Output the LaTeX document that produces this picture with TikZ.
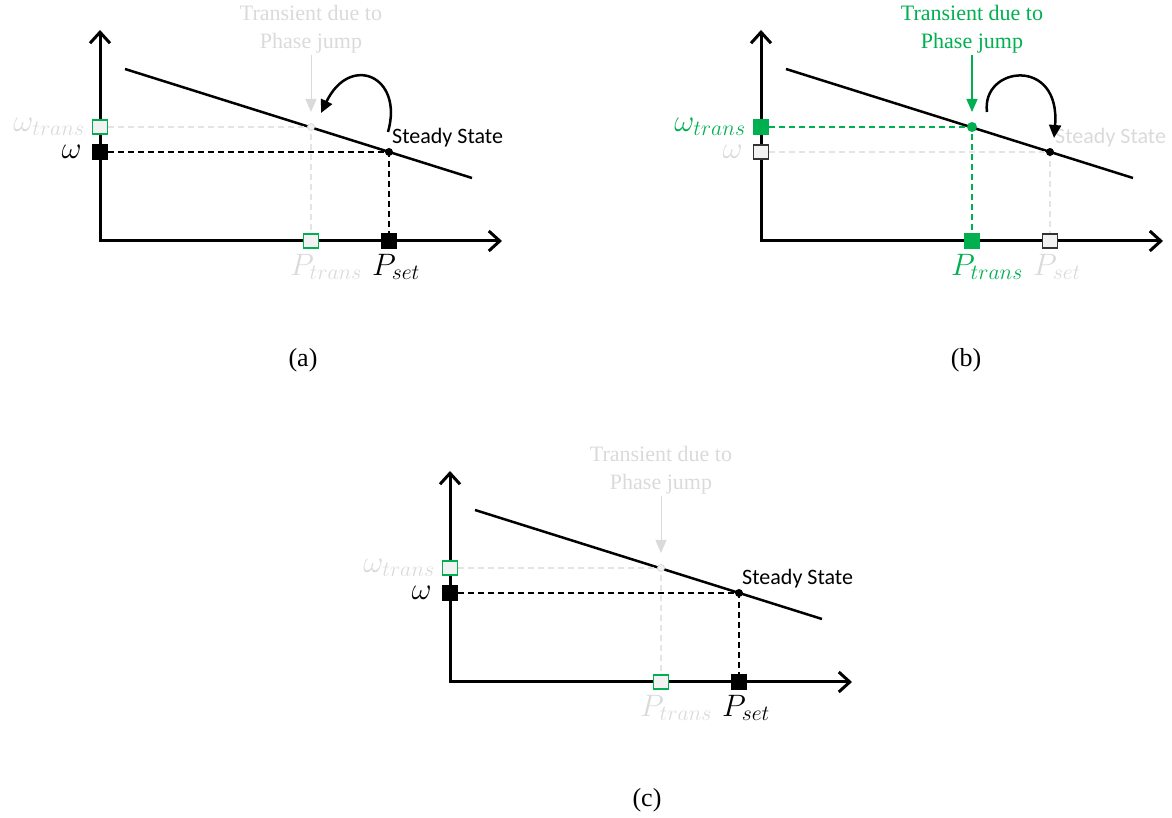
\documentclass[tikz,border=0pt]{standalone}
\usepackage{fix-cm}
\usepackage{fontspec}
\setmainfont{Liberation Serif}
\newfontfamily\calibrifont{Carlito}
\usepackage{tikz}
\usetikzlibrary{
	calc,
	positioning,
	arrows.meta
}
\definecolor{jumpgreen}{RGB}{0,176,80}
\definecolor{fadetxt}{RGB}{218,218,218}
\definecolor{fadeline}{RGB}{228,228,228}
\definecolor{boxfill}{RGB}{242,242,242}

\begin{document}
\begin{tikzpicture}[
		x=1pt, y=1pt,
		axis/.style={line width=3pt, >={Straight Barb[length=11pt,width=20pt]}, <->},
		droop/.style={line width=2.5pt},
		dropline/.style={line width=1.4pt, dash pattern=on 6pt off 4pt},
		sqbox/.style={rectangle, inner sep=0pt, minimum width=15pt, minimum height=14pt, line width=1.5pt},
		sqset/.style={sqbox, fill=black, draw=black},
		sqgreen/.style={sqbox, fill=jumpgreen, draw=jumpgreen},
		sqfadegreen/.style={sqbox, fill=boxfill, draw=jumpgreen},
		sqfadeblack/.style={sqbox, fill=boxfill, draw=black!80},
		mathlbl/.style={font=\fontsize{31}{36}\selectfont, inner sep=0pt},
		jumptxt/.style={font=\fontsize{22}{28}\selectfont, align=center, inner sep=2pt},
		steadytxt/.style={font=\calibrifont\fontsize{22}{26}\selectfont, inner sep=0pt, anchor=base west},
		caption/.style={font=\fontsize{26}{30}\selectfont},
		jumparrow/.style={line width=2.5pt, -{Triangle[length=13pt,width=12pt]}},
		pointer/.style={-{Triangle[length=13pt,width=11pt]}, shorten >=15pt}
	]
	\useasboundingbox (0,0) rectangle (1172,818);

	% ---------- (a) ----------
	\begin{scope}[shift={(100,577)}]
		% 坐标
		\coordinate (a-o)  at (0,0);
		\coordinate (a-yt) at (0,211);
		\coordinate (a-xt) at (402,0);
		\coordinate (a-l0) at (25,172);
		\coordinate (a-l1) at (372,63);
		\coordinate (a-ss) at (289,89);
		\coordinate (a-tr) at (211,114);
		\coordinate (a-c0) at (288,109);
		\coordinate (a-c1) at (221,128);

		% 坐标轴
		\draw[axis] (a-yt) -- (a-o) -- (a-xt);
		% 下垂特性
		\draw[droop] (a-l0) -- (a-l1);

		% 方块
		\node[sqset]       (a-w)  at (a-o |- a-ss) {};
		\node[sqfadegreen] (a-wt) at (a-o |- a-tr) {};
		\node[sqset]       (a-ps) at (a-ss |- a-o) {};
		\node[sqfadegreen] (a-pt) at (a-tr |- a-o) {};

		% 参考虚线
		\draw[dropline, fadeline] (a-wt) -- (a-tr) -- (a-pt);
		\draw[dropline] (a-w) -- (a-ss) -- (a-ps);

		% 工作点
		\filldraw[fill=boxfill, draw=fadetxt, line width=0.8pt] (a-tr) circle (3.5);
		\fill (a-ss) circle (4);

		% 标签
		\node[mathlbl, left=10pt of a-w] (a-wlbl) {$\omega$};
		\node[mathlbl, fadetxt, left=7pt of a-wt] (a-wtlbl) {$\omega_{trans}$};
		\node[mathlbl, anchor=north] (a-pslbl) at ([xshift=7pt, yshift=-5pt]a-ps.south) {$P_{set}$};
		\node[mathlbl, fadetxt, anchor=north] (a-ptlbl) at ([xshift=15pt, yshift=-5pt]a-pt.south) {$P_{trans}$};
		\node[steadytxt] (a-sstxt) at ([xshift=3pt, yshift=8pt]a-ss) {Steady State};

		% 相位跳变
		\node[jumptxt, fadetxt] (a-txt) at (211,212) {Transient due to\\Phase jump};
		\draw[pointer, fadetxt, line width=1pt] (a-txt) -- (a-tr);
		\draw[jumparrow] (a-c0) .. controls +(16,56) and +(29,60) .. (a-c1);

		\node[caption] (a-cap) at (203,-119) {(a)};
	\end{scope}

	% ---------- (b) ----------
	\begin{scope}[shift={(761,577)}]
		% 坐标
		\coordinate (b-o)  at (0,0);
		\coordinate (b-yt) at (0,211);
		\coordinate (b-xt) at (402,0);
		\coordinate (b-l0) at (25,172);
		\coordinate (b-l1) at (372,63);
		\coordinate (b-ss) at (289,89);
		\coordinate (b-tr) at (211,114);
		\coordinate (b-c0) at (226,129);
		\coordinate (b-c1) at (293,103);

		% 坐标轴
		\draw[axis] (b-yt) -- (b-o) -- (b-xt);
		% 下垂特性
		\draw[droop] (b-l0) -- (b-l1);

		% 方块
		\node[sqfadeblack] (b-w)  at (b-o |- b-ss) {};
		\node[sqgreen]     (b-wt) at (b-o |- b-tr) {};
		\node[sqfadeblack] (b-ps) at (b-ss |- b-o) {};
		\node[sqgreen]     (b-pt) at (b-tr |- b-o) {};

		% 参考虚线
		\draw[dropline, fadeline] (b-w) -- (b-ss) -- (b-ps);
		\draw[dropline, jumpgreen, line width=1.8pt] (b-wt) -- (b-tr) -- (b-pt);

		% 工作点
		\fill[jumpgreen] (b-tr) circle (5);
		\fill (b-ss) circle (4);

		% 标签
		\node[mathlbl, fadetxt, left=10pt of b-w] (b-wlbl) {$\omega$};
		\node[mathlbl, jumpgreen, left=7pt of b-wt] (b-wtlbl) {$\omega_{trans}$};
		\node[mathlbl, fadetxt, anchor=north] (b-pslbl) at ([xshift=7pt, yshift=-5pt]b-ps.south) {$P_{set}$};
		\node[mathlbl, jumpgreen, anchor=north] (b-ptlbl) at ([xshift=15pt, yshift=-5pt]b-pt.south) {$P_{trans}$};
		\node[steadytxt, fadetxt] (b-sstxt) at ([xshift=5pt, yshift=8pt]b-ss) {Steady State};

		% 相位跳变
		\node[jumptxt, jumpgreen] (b-txt) at (211,212) {Transient due to\\Phase jump};
		\draw[pointer, jumpgreen, line width=1.5pt] (b-txt) -- (b-tr);
		\draw[jumparrow] (b-c0) .. controls +(-6,46) and +(7,82) .. (b-c1);

		\node[caption] (b-cap) at (205,-119) {(b)};
	\end{scope}

	% ---------- (c) ----------
	\begin{scope}[shift={(450,136)}]
		% 坐标
		\coordinate (c-o)  at (0,0);
		\coordinate (c-yt) at (0,211);
		\coordinate (c-xt) at (402,0);
		\coordinate (c-l0) at (25,172);
		\coordinate (c-l1) at (372,63);
		\coordinate (c-ss) at (289,89);
		\coordinate (c-tr) at (211,114);

		% 坐标轴
		\draw[axis] (c-yt) -- (c-o) -- (c-xt);
		% 下垂特性
		\draw[droop] (c-l0) -- (c-l1);

		% 方块
		\node[sqset]       (c-w)  at (c-o |- c-ss) {};
		\node[sqfadegreen] (c-wt) at (c-o |- c-tr) {};
		\node[sqset]       (c-ps) at (c-ss |- c-o) {};
		\node[sqfadegreen] (c-pt) at (c-tr |- c-o) {};

		% 参考虚线
		\draw[dropline, fadeline] (c-wt) -- (c-tr) -- (c-pt);
		\draw[dropline] (c-w) -- (c-ss) -- (c-ps);

		% 工作点
		\filldraw[fill=boxfill, draw=fadetxt, line width=0.8pt] (c-tr) circle (3.5);
		\fill (c-ss) circle (4);

		% 标签
		\node[mathlbl, left=10pt of c-w] (c-wlbl) {$\omega$};
		\node[mathlbl, fadetxt, left=7pt of c-wt] (c-wtlbl) {$\omega_{trans}$};
		\node[mathlbl, anchor=north] (c-pslbl) at ([xshift=7pt, yshift=-5pt]c-ps.south) {$P_{set}$};
		\node[mathlbl, fadetxt, anchor=north] (c-ptlbl) at ([xshift=15pt, yshift=-5pt]c-pt.south) {$P_{trans}$};
		\node[steadytxt] (c-sstxt) at ([xshift=3pt, yshift=8pt]c-ss) {Steady State};

		% 相位跳变
		\node[jumptxt, fadetxt] (c-txt) at (211,212) {Transient due to\\Phase jump};
		\draw[pointer, fadetxt, line width=1pt] (c-txt) -- (c-tr);

		\node[caption] (c-cap) at (197,-118) {(c)};
	\end{scope}
\end{tikzpicture}
\end{document}
